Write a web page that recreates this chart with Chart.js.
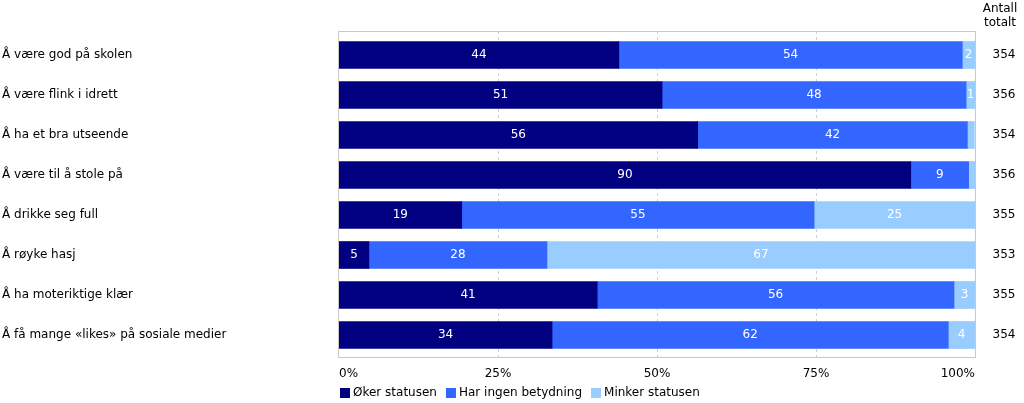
<!DOCTYPE html>
<html>
<head>
<meta charset="utf-8">
<script src="https://cdn.jsdelivr.net/npm/chart.js@4"></script>
<style>
  html, body { margin: 0; padding: 0; background: #fff; }
  #wrap { width: 1024px; height: 403px; position: relative; }
</style>
</head>
<body>
<div id="wrap"><canvas id="c"></canvas></div>
<script>
  const categories = [
    'Å være god på skolen',
    'Å være flink i idrett',
    'Å ha et bra utseende',
    'Å være til å stole på',
    'Å drikke seg full',
    'Å røyke hasj',
    'Å ha moteriktige klær',
    'Å få mange «likes» på sosiale medier',
  ];
  const okerStatusen   = [44.0, 50.8, 56.4, 89.9, 19.3, 4.7, 40.6, 33.5];
  const ingenBetydning = [54.0, 47.8, 42.4,  9.1, 55.4, 28.0, 56.1, 62.3];
  const minkerStatusen = [ 2.0,  1.4,  1.1,  1.0, 25.3, 67.3,  3.3,  4.2];
  const antallTotalt   = [354, 356, 354, 356, 355, 353, 355, 354];
  const xTicks = [0, 25, 50, 75, 100];

  const FONT = "'DejaVu Sans', Verdana, sans-serif";
  const COLORS = {
    oker:   '#000080', // navy
    ingen:  '#3366ff', // blue
    minker: '#99ccff', // light blue
    frame:  '#c8c8c8',
    grid:   '#d0d0d0',
    text:   '#000000',
  };

  Chart.defaults.font.family = FONT;
  Chart.defaults.font.size = 12;
  Chart.defaults.color = COLORS.text;

  // frame + dashed gridlines behind the bars
  const framePlugin = {
    id: 'frame',
    beforeDatasetsDraw(chart) {
      const { ctx, chartArea: a, scales: { x } } = chart;
      const top = a.top - 4, bottom = a.bottom + 2;
      ctx.save();
      ctx.strokeStyle = COLORS.grid;
      ctx.lineWidth = 1;
      ctx.setLineDash([3, 3]);
      xTicks.slice(1, -1).forEach(v => {
        const px = Math.round(x.getPixelForValue(v)) + 0.5;
        ctx.beginPath(); ctx.moveTo(px, top); ctx.lineTo(px, bottom); ctx.stroke();
      });
      ctx.setLineDash([]);
      ctx.strokeStyle = COLORS.frame;
      ctx.strokeRect(Math.round(a.left) - 0.5, top + 0.5, Math.round(a.right - a.left) + 1, bottom - top);
      ctx.restore();
    },
  };

  // numbers inside bars, totals column, header and legend
  const textPlugin = {
    id: 'texts',
    afterDatasetsDraw(chart) {
      const { ctx, chartArea: a, scales: { y } } = chart;
      ctx.save();
      ctx.font = '12px ' + FONT;
      ctx.textAlign = 'center';
      ctx.textBaseline = 'middle';
      ctx.fillStyle = '#ffffff';
      chart.data.datasets.forEach((ds, di) => {
        chart.getDatasetMeta(di).data.forEach((bar, i) => {
          const v = ds.data[i];
          if (v < 1.2) return;
          ctx.fillText(String(Math.round(v)), (bar.x + bar.base) / 2, bar.y);
        });
      });

      // Antall totalt column
      ctx.fillStyle = COLORS.text;
      antallTotalt.forEach((n, i) => {
        ctx.fillText(String(n), 1004, y.getPixelForValue(i));
      });
      ctx.fillText('Antall', 1000, 9);
      ctx.fillText('totalt', 1000, 23);

      // legend, aligned with the plot area
      let lx = a.left + 1;
      const ly = 393;
      ctx.textAlign = 'left';
      chart.data.datasets.forEach(ds => {
        ctx.fillStyle = ds.backgroundColor;
        ctx.fillRect(lx, ly - 5, 10, 10);
        ctx.fillStyle = COLORS.text;
        ctx.fillText(ds.label, lx + 13, ly);
        lx += 13 + ctx.measureText(ds.label).width + 9;
      });
      ctx.restore();
    },
  };

  new Chart(document.getElementById('c'), {
    type: 'bar',
    data: {
      labels: categories,
      datasets: [
        { label: 'Øker statusen',       data: okerStatusen,   backgroundColor: COLORS.oker },
        { label: 'Har ingen betydning', data: ingenBetydning, backgroundColor: COLORS.ingen },
        { label: 'Minker statusen',     data: minkerStatusen, backgroundColor: COLORS.minker },
      ],
    },
    options: {
      indexAxis: 'y',
      responsive: true,
      maintainAspectRatio: false,
      animation: false,
      layout: { padding: { top: 35, right: 49, left: 2, bottom: 0 } },
      datasets: { bar: { barThickness: 27, borderWidth: 0 } },
      plugins: { legend: { display: false }, tooltip: { enabled: false } },
      scales: {
        x: {
          stacked: true,
          min: 0, max: 100,
          grid: { display: false },
          border: { display: false },
          afterFit: s => { s.height = 48; },
          afterBuildTicks: s => { s.ticks = xTicks.map(v => ({ value: v })); },
          ticks: { padding: 4, align: 'inner', maxRotation: 0, callback: v => v + '%', color: COLORS.text, font: { size: 12 } },
        },
        y: {
          stacked: true,
          grid: { display: false },
          border: { display: false },
          afterFit: s => { s.width = 337; },
          ticks: { crossAlign: 'far', padding: 0, color: COLORS.text, font: { size: 12 } },
        },
      },
    },
    plugins: [framePlugin, textPlugin],
  });
</script>
</body>
</html>
